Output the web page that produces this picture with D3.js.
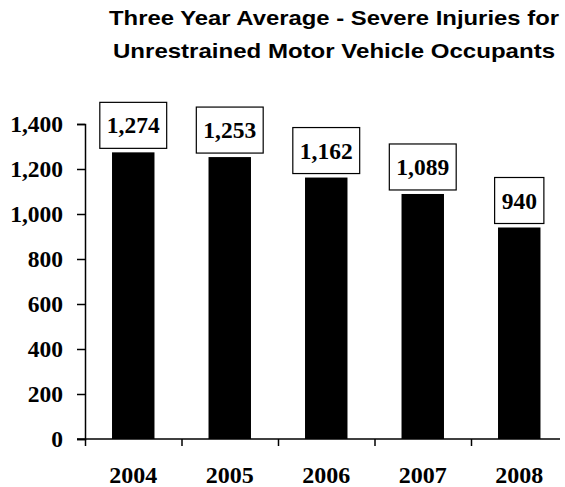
<!DOCTYPE html>
<html><head><meta charset="utf-8">
<script src="https://cdn.jsdelivr.net/npm/d3@7"></script>
<style>body{margin:0;background:#fff}svg{display:block}</style>
</head><body><svg id="c" width="565" height="487"></svg>
<script>
const categories = ["2004","2005","2006","2007","2008"];
const values = [1274,1253,1162,1089,940];
const valueLabels = ["1,274","1,253","1,162","1,089","940"];
const yTicks = [0,200,400,600,800,1000,1200,1400];
const titleLines = ["Three Year Average - Severe Injuries for","Unrestrained Motor Vehicle Occupants"];

const svg = d3.select("#c");
const x0 = 85, x1 = 567.5, yBase = 439, yTop = 124;
const x = d3.scaleBand().domain(categories).range([x0, x1]).paddingInner(0.56).paddingOuter(0.28);
const y = d3.scaleLinear().domain([0,1400]).range([yBase, yTop]);
const serif = "'Liberation Serif','Times New Roman',serif";

// title
const titleW = [450, 442];
svg.append("g").selectAll("text").data(titleLines).join("text")
  .attr("x", 334).attr("y", (d,i)=>25+i*33)
  .attr("text-anchor","middle")
  .attr("font-family","'Liberation Sans',Arial,sans-serif")
  .attr("font-weight","bold").attr("font-size",21)
  .attr("textLength",(d,i)=>titleW[i]).attr("lengthAdjust","spacingAndGlyphs")
  .attr("fill","#000").text(d=>d);

// bars
svg.append("g").selectAll("rect").data(values).join("rect")
  .attr("x",(d,i)=>x(categories[i])).attr("width",x.bandwidth())
  .attr("y",d=>y(d)).attr("height",d=>yBase-y(d)).attr("fill","#000");

// y axis
const ya = svg.append("g").attr("transform",`translate(${x0},0)`)
  .call(d3.axisLeft(y).tickValues(yTicks).tickSize(8).tickPadding(14).tickFormat(d3.format(",")));
ya.select(".domain").attr("stroke-width",1.5);
ya.selectAll(".tick line").attr("stroke-width",1.5);
ya.selectAll("text").attr("font-family",serif).attr("font-weight","bold").attr("font-size",23.5).attr("fill","#000");

// x axis line and ticks at band boundaries
const bx = d3.scaleLinear().domain([0,categories.length]).range([x0,x1]);
const xa = svg.append("g").attr("transform",`translate(0,${yBase})`)
  .call(d3.axisBottom(bx).tickValues([0,1,2,3,4]).tickSize(7).tickFormat(""));
xa.select(".domain").remove();
xa.selectAll(".tick line").attr("stroke-width",1.5);
svg.append("line").attr("x1",77).attr("x2",560).attr("y1",yBase).attr("y2",yBase).attr("stroke","#000").attr("stroke-width",1.5);

// category labels
svg.append("g").selectAll("text").data(categories).join("text")
  .attr("x",d=>x(d)+x.bandwidth()/2).attr("y",483)
  .attr("text-anchor","middle").attr("font-family",serif).attr("font-weight","bold").attr("font-size",24)
  .attr("fill","#000").text(d=>d);

// value label boxes
const lg = svg.append("g").selectAll("g").data(values).join("g");
lg.each(function(d,i){
  const g = d3.select(this);
  const cx = x(categories[i])+x.bandwidth()/2;
  const bottom = y(d)-4;
  const t = g.append("text").attr("x",cx).attr("y",bottom-15)
    .attr("text-anchor","middle").attr("font-family",serif).attr("font-weight","bold").attr("font-size",23.5)
    .attr("fill","#000").text(valueLabels[i]);
  const w = t.node().getComputedTextLength()+14;
  g.insert("rect","text").attr("x",cx-w/2).attr("y",bottom-46).attr("width",w).attr("height",46)
    .attr("fill","#fff").attr("stroke","#000").attr("stroke-width",1.2);
});
</script></body></html>
